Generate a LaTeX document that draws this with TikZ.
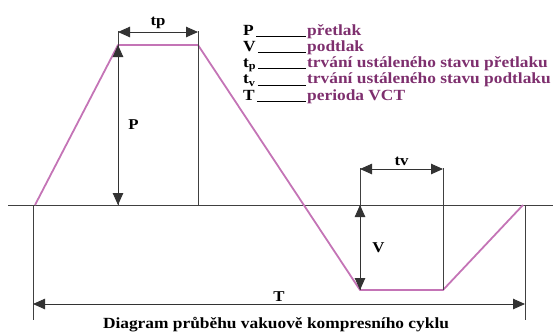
\documentclass[tikz,border=0pt]{standalone}
\usepackage{fontspec}
\setmainfont{Liberation Serif}
\newfontfamily\widefont[FakeStretch=1.12]{Liberation Serif}
\usetikzlibrary{arrows.meta}
\definecolor{wavecol}{HTML}{C474B6}
\definecolor{keycol}{HTML}{7E2F6E}

\begin{document}
\begin{tikzpicture}[x=1pt,y=-1pt,
  axis/.style={draw=black!75,line width=0.9pt},
  wave/.style={draw=wavecol,line width=1.8pt,line join=round},
  dim/.style={{Triangle[length=12pt,width=10.5pt]}-{Triangle[length=12pt,width=10.5pt]},draw=black!80,line width=0.9pt},
  lbl/.style={font=\widefont\bfseries\fontsize{15}{15}\selectfont,inner sep=1pt},
  keyname/.style={anchor=base west,font=\widefont\bfseries\fontsize{15.5}{15.5}\selectfont,inner sep=0pt},
  keytext/.style={anchor=base west,text=keycol,font=\widefont\bfseries\fontsize{15.5}{15.5}\selectfont,inner sep=0pt}]
\useasboundingbox (0,0) rectangle (553,333);
% zero line
\coordinate (z0) at (8,205);
\coordinate (z1) at (553,205);
\draw[axis] (z0) -- (z1);
% cycle
\coordinate (s) at (35,205);
\coordinate (pa) at (118,45);
\coordinate (pb) at (198,45);
\coordinate (va) at (360,290);
\coordinate (vb) at (443,290);
\coordinate (e) at (523,205);
\draw[wave] (s) -- (pa) -- (pb) -- (va) -- (vb) -- (e);
% overpressure
\coordinate (pa0) at (118,205);
\coordinate (pb0) at (198,205);
\coordinate (pat) at (118,31);
\coordinate (pbt) at (198,31);
\coordinate (tpa) at (118,32);
\coordinate (tpb) at (198,32);
\draw[axis] (pat) -- (pa0);
\draw[axis] (pbt) -- (pb0);
\draw[dim] (pa) -- (pa0) node[lbl,midway,right=9pt] (lp) {P};
\draw[dim] (tpa) -- (tpb) node[lbl,midway,above=2pt] (ltp) {tp};
% underpressure
\coordinate (va0) at (360,205);
\coordinate (vat) at (360,168);
\coordinate (vbt) at (443,168);
\coordinate (tva) at (360,169);
\coordinate (tvb) at (443,169);
\draw[axis] (vat) -- (va);
\draw[axis] (vbt) -- (vb);
\draw[dim] (va0) -- (va) node[lbl,midway,right=11pt] (lv) {V};
\draw[dim] (tva) -- (tvb) node[lbl,midway,above=2pt] (ltv) {tv};
% period
\coordinate (ta) at (33,205);
\coordinate (tb) at (525,205);
\coordinate (ta1) at (33,320);
\coordinate (tb1) at (525,320);
\coordinate (tta) at (33,304);
\coordinate (ttb) at (525,304);
\draw[axis] (ta) -- (ta1);
\draw[axis] (tb) -- (tb1);
\draw[dim] (tta) -- (ttb) node[lbl,pos=0.5,above=1pt] (lt) {T};
% legend
\foreach \k/\txt [count=\i] in {P/přetlak,V/podtlak,t\textsubscript{p}/trvání ustáleného stavu přetlaku,t\textsubscript{v}/trvání ustáleného stavu podtlaku,T/perioda VCT} {
  \node[keyname] (k\i) at (243,{35+16.3*(\i-1)}) {\k};
  \node[keytext] (d\i) at (307,{35+16.3*(\i-1)}) {\txt};
  \draw[black,line width=0.8pt] ([xshift=2pt,yshift=-1pt]k\i.base east) -- ([xshift=-1pt,yshift=-1pt]d\i.base west);
}
% caption
\node[font=\widefont\bfseries\fontsize{15.5}{15.5}\selectfont] (cap) at (276,325) {Diagram průběhu vakuově kompresního cyklu};
\end{tikzpicture}
\end{document}
